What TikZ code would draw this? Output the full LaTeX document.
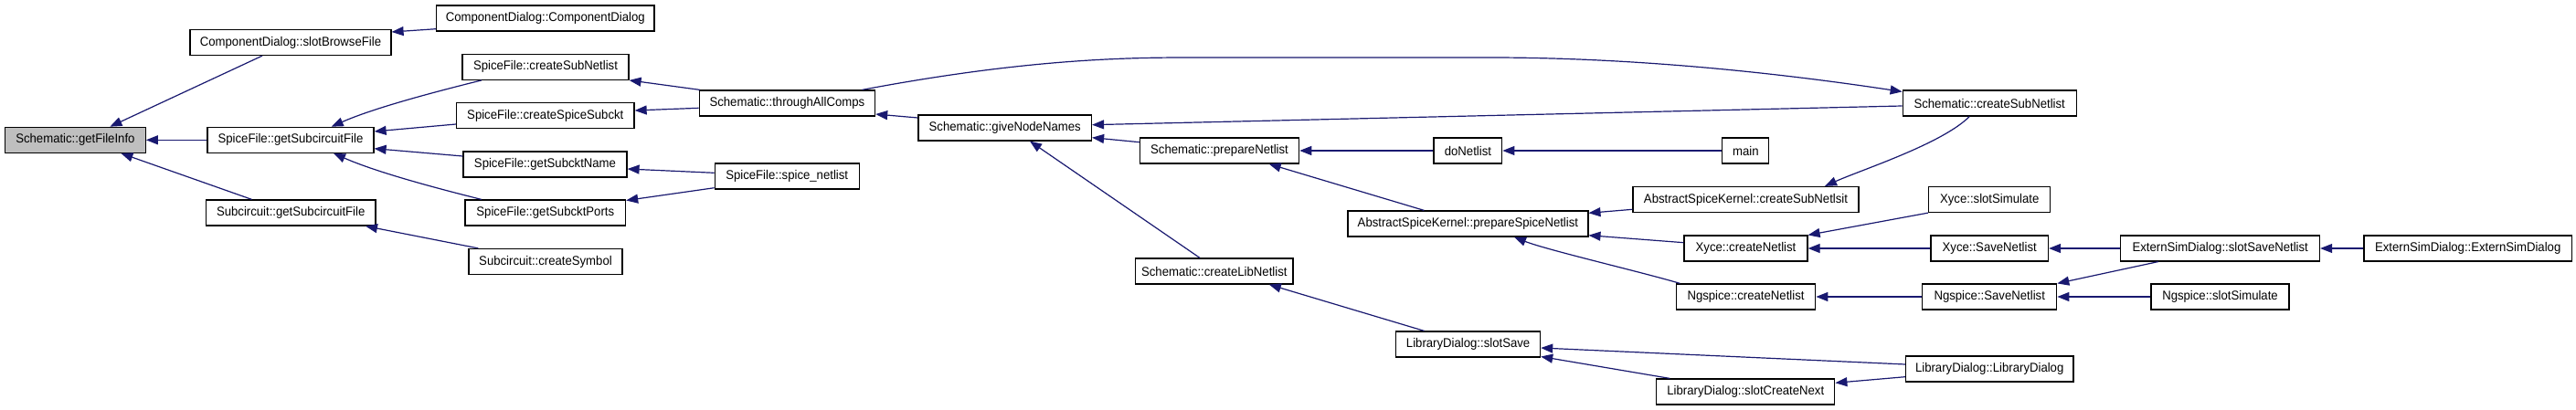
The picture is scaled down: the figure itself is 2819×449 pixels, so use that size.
\documentclass[tikz,border=0pt]{standalone}
\usepackage{fontspec}
\newfontfamily\dfont[FakeStretch=0.94]{Liberation Sans}
\usetikzlibrary{arrows.meta}
\definecolor{edgecol}{HTML}{191970}
\definecolor{graybox}{HTML}{BFBFBF}
\begin{document}
\begin{tikzpicture}[x=1pt,y=-1pt,
  box/.style={draw=black,line width=1.2pt,fill=white,inner sep=0pt,minimum height=28pt,
    font=\dfont\fontsize{14}{16}\selectfont,anchor=center},
  edge/.style={draw=edgecol,line width=1.2pt,-{Triangle[length=13pt,width=10pt]}}]
\useasboundingbox (0,0) rectangle (2819,449);
\fill[white] (0,0) rectangle (2819,449);
% nodes
\node[box,fill=graybox,minimum width=153.8pt] (gfi) at (82.4,153.3) {Schematic::getFileInfo};
\node[box,minimum width=220pt] (cdsb) at (318,46.5) {ComponentDialog::slotBrowseFile};
\node[box,minimum width=238.5pt] (cdcd) at (596.8,20) {ComponentDialog::ComponentDialog};
\node[box,minimum width=182pt] (sfgsf) at (318,153.3) {SpiceFile::getSubcircuitFile};
\node[box,minimum width=185.6pt] (scgsf) at (318.2,233) {Subcircuit::getSubcircuitFile};
\node[box,minimum width=182pt] (sfcsn) at (597,73.3) {SpiceFile::createSubNetlist};
\node[box,minimum width=194.5pt] (sfcss) at (596.8,126.7) {SpiceFile::createSpiceSubckt};
\node[box,minimum width=179pt] (sfgsn) at (596.5,180) {SpiceFile::getSubcktName};
\node[box,minimum width=175.6pt] (sfgsp) at (596.8,233) {SpiceFile::getSubcktPorts};
\node[box,minimum width=168pt] (sccs) at (597,286.5) {Subcircuit::createSymbol};
\node[box,minimum width=192.4pt] (stac) at (861.4,113) {Schematic::throughAllComps};
\node[box,minimum width=158pt] (sfsn) at (861.2,193) {SpiceFile::spice\_netlist};
\node[box,minimum width=189.6pt] (sgnn) at (1099.7,140) {Schematic::giveNodeNames};
\node[box,minimum width=174.3pt] (spn) at (1334.5,165) {Schematic::prepareNetlist};
\node[box,minimum width=172.2pt] (scln) at (1328.8,297) {Schematic::createLibNetlist};
\node[box,minimum width=74.8pt] (dn) at (1606.4,165) {doNetlist};
\node[box,minimum width=51pt] (mn) at (1910.3,165) {main};
\node[box,minimum width=263pt] (aspsn) at (1606.4,245) {AbstractSpiceKernel::prepareSpiceNetlist};
\node[box,minimum width=247pt] (akcsn) at (1910.5,218.5) {AbstractSpiceKernel::createSubNetlsit};
\node[box,minimum width=135pt] (xcn) at (1910.5,272) {Xyce::createNetlist};
\node[box,minimum width=152.5pt] (ncn) at (1910.5,325) {Ngspice::createNetlist};
\node[box,minimum width=158pt] (ldss) at (1606.6,377) {LibraryDialog::slotSave};
\node[box,minimum width=195pt] (ldcn) at (1910.3,429) {LibraryDialog::slotCreateNext};
\node[box,minimum width=190pt] (scsn) at (2177.2,113) {Schematic::createSubNetlist};
\node[box,minimum width=183.5pt] (ldld) at (2177.2,404) {LibraryDialog::LibraryDialog};
\node[box,minimum width=133pt] (xss) at (2177.2,218.5) {Xyce::slotSimulate};
\node[box,minimum width=128.5pt] (xsn) at (2177.2,272) {Xyce::SaveNetlist};
\node[box,minimum width=147pt] (nsn) at (2177.2,325) {Ngspice::SaveNetlist};
\node[box,minimum width=217.7pt] (essn) at (2429.7,272) {ExternSimDialog::slotSaveNetlist};
\node[box,minimum width=227.4pt] (esed) at (2700.7,272) {ExternSimDialog::ExternSimDialog};
\node[box,minimum width=151pt] (nss) at (2429.5,325) {Ngspice::slotSimulate};
% edges
\draw[edge] ([xshift=-31pt]cdsb.south) -- ([xshift=38pt]gfi.north);
\draw[edge] (sfgsf.west) -- (gfi.east);
\draw[edge] ([xshift=-42.7pt]scgsf.north) -- ([xshift=50pt]gfi.south);
\draw[edge] ([yshift=-11.7pt]cdcd.west) -- ([yshift=11.5pt]cdsb.east);
\draw[edge] ([xshift=-70pt]sfcsn.south) .. controls +(-40,10) and +(50,-22) .. ([xshift=44.7pt]sfgsf.north);
\draw[edge] ([yshift=-9.3pt]sfcss.west) -- ([yshift=9.3pt]sfgsf.east);
\draw[edge] ([yshift=9pt]sfgsn.west) -- ([yshift=-9.4pt]sfgsf.east);
\draw[edge] ([xshift=-70pt]sfgsp.north) .. controls +(-40,-10) and +(50,22) .. ([xshift=47pt]sfgsf.south);
\draw[edge] ([xshift=-73.6pt]sccs.north) -- ([xshift=81.8pt]scgsf.south);
\draw[edge] ([xshift=1.4pt]stac.north west) -- (sfcsn.south east);
\draw[edge] ([yshift=-5.3pt]stac.west) -- ([yshift=5.7pt]sfcss.east);
\draw[edge] ([yshift=3.7pt]sfsn.west) -- ([yshift=-5pt]sfgsn.east);
\draw[edge] ([yshift=-12.7pt]sfsn.west) -- ([yshift=13.5pt]sfgsp.east);
\draw[edge] ([yshift=11pt]sgnn.west) -- ([yshift=-12pt]stac.east);
\draw[edge] ([xshift=82pt]stac.north) .. controls (1120,65) and (1230,63) .. (1300,63) -- (1630,63) .. controls (1770,63) and (1920,76) .. ([yshift=-2pt]scsn.north west);
\draw[edge] ([yshift=-3pt]scsn.west) -- ([yshift=3.3pt]sgnn.east);
\draw[edge] ([yshift=9.3pt]spn.west) -- ([yshift=-10.7pt]sgnn.east);
\draw[edge] ([xshift=-15.8pt]scln.north) -- ([xshift=27.3pt]sgnn.south);
\draw[edge] (dn.west) -- (spn.east);
\draw[edge] (mn.west) -- (dn.east);
\draw[edge] ([xshift=-48pt]aspsn.north) -- ([xshift=54.2pt]spn.south);
\draw[edge] ([yshift=-10.8pt]akcsn.west) -- ([yshift=11.7pt]aspsn.east);
\draw[edge] ([yshift=6.3pt]xcn.west) -- ([yshift=-12.7pt]aspsn.east);
\draw[edge] ([xshift=-72pt]ncn.north) .. controls +(-40,-12) and +(35,14) .. ([xshift=50.6pt]aspsn.south);
\draw[edge] ([xshift=-22pt]scsn.south) .. controls +(-30,30) and +(40,-18) .. ([xshift=86.5pt]akcsn.north);
\draw[edge] (xss.south west) -- (xcn.north east);
\draw[edge] (xsn.west) -- (xcn.east);
\draw[edge] (nsn.west) -- (ncn.east);
\draw[edge] (essn.west) -- (xsn.east);
\draw[edge] ([xshift=-68pt]essn.south) -- (nsn.north east);
\draw[edge] (nss.west) -- (nsn.east);
\draw[edge] (esed.west) -- (essn.east);
\draw[edge] ([xshift=-48pt]ldss.north) -- ([xshift=60pt]scln.south);
\draw[edge] ([yshift=5pt]ldld.west) -- ([yshift=-4pt]ldss.east);
\draw[edge] ([xshift=-83pt]ldcn.north) -- ([yshift=-13.5pt]ldss.east);
\draw[edge] ([yshift=-8.7pt]ldld.west) -- ([yshift=9.7pt]ldcn.east);
\end{tikzpicture}
\end{document}
